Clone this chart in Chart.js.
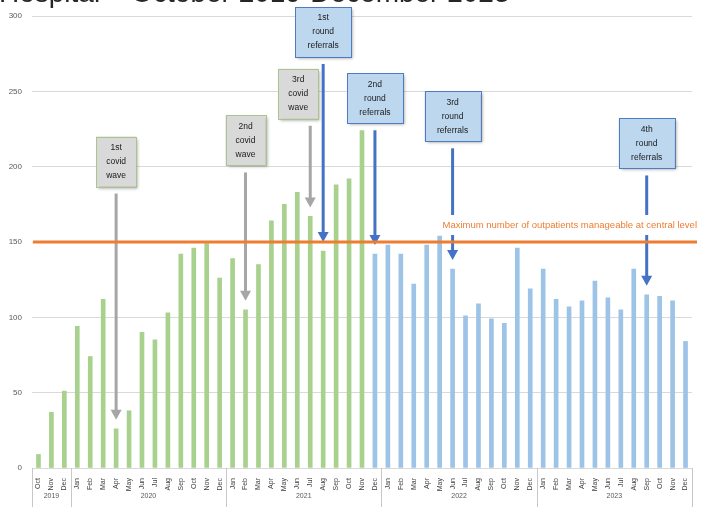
<!DOCTYPE html>
<html>
<head>
<meta charset="utf-8">
<style>
  html, body { margin: 0; padding: 0; background: #ffffff; overflow: hidden; }
  #wrap { position: relative; width: 702px; height: 517px; }
  #title { position: absolute; left: -1px; top: -23px; font: 28px "Liberation Sans", Arial, sans-serif;
           color: #262626; white-space: nowrap; z-index: 2; }
  canvas { position: absolute; left: 0; top: 0; }
</style>
<script src="https://cdn.jsdelivr.net/npm/chart.js@4.4.1/dist/chart.umd.min.js"></script>
</head>
<body>
<div id="wrap">
  <div id="title">Hospital – October 2019-December 2023</div>
  <canvas id="c" width="702" height="517"></canvas>
</div>
<script>
// Monthly outpatient counts, October 2019 – December 2023
const monthLabels = [
  'Oct','Nov','Dec',
  'Jan','Feb','Mar','Apr','May','Jun','Jul','Aug','Sep','Oct','Nov','Dec',
  'Jan','Feb','Mar','Apr','May','Jun','Jul','Aug','Sep','Oct','Nov','Dec',
  'Jan','Feb','Mar','Apr','May','Jun','Jul','Aug','Sep','Oct','Nov','Dec',
  'Jan','Feb','Mar','Apr','May','Jun','Jul','Aug','Sep','Oct','Nov','Dec'
];
const yearLabels = ['2019', '2020', '2021', '2022', '2023'];
const monthsPerYear = [3, 12, 12, 12, 12];

// Oct 2019 – Nov 2021: before referrals reached full effect
const beforeReferrals = [9, 37, 51, 94, 74, 112, 26, 38, 90, 85, 103, 142, 146,
                         149, 126, 139, 105, 135, 164, 175, 183, 167, 144, 188, 192, 224];
// Dec 2021 – Dec 2023
const afterReferrals = [142, 148, 142, 122, 148, 154, 132, 101, 109, 99, 96, 146, 119,
                        132, 112, 107, 111, 124, 113, 105, 132, 115, 114, 111, 84];

const yTicks = [0, 50, 100, 150, 200, 250, 300];
const capacityLimit = 150;
const capacityText = 'Maximum number of outpatients manageable at central level';

// Events marked above the bars (month = index into monthLabels)
const eventTexts = [
  ['1st', 'covid', 'wave'],
  ['2nd', 'covid', 'wave'],
  ['3rd', 'covid', 'wave'],
  ['1st', 'round', 'referrals'],
  ['2nd', 'round', 'referrals'],
  ['3rd', 'round', 'referrals'],
  ['4th', 'round', 'referrals']
];
const eventMonths = [6, 16, 21, 22, 26, 32, 47];
const eventKinds = ['covid', 'covid', 'covid', 'referral', 'referral', 'referral', 'referral'];

const nBefore = beforeReferrals.length;
const seriesBefore = monthLabels.map((_, i) => i < nBefore ? beforeReferrals[i] : null);
const seriesAfter = monthLabels.map((_, i) => i >= nBefore ? afterReferrals[i - nBefore] : null);

// Callout layout: top edge of each box on the value axis, horizontal shift in px
const calloutTops = [220, 234, 265, 306, 262, 250, 232];
const calloutShift = [0, 0, -12, 0, 0, 0, 0];

const styles = {
  covid:    { fill: '#d9d9d9', stroke: '#a9c48f', arrow: '#a6a6a6', w: 40 },
  referral: { fill: '#bdd7ee', stroke: '#4f7cc0', arrow: '#4472c4', w: 56 }
};

function drawArrow(ctx, x, y0, y1, color) {
  const head = 10, half = 5.5;
  ctx.save();
  ctx.strokeStyle = color;
  ctx.fillStyle = color;
  ctx.lineWidth = 3;
  ctx.beginPath();
  ctx.moveTo(x, y0);
  ctx.lineTo(x, y1 - head + 1);
  ctx.stroke();
  ctx.beginPath();
  ctx.moveTo(x - half, y1 - head);
  ctx.lineTo(x + half, y1 - head);
  ctx.lineTo(x, y1);
  ctx.closePath();
  ctx.fill();
  ctx.restore();
}

const overlayPlugin = {
  id: 'overlay',
  afterDatasetsDraw(chart) {
    const ctx = chart.ctx;
    const xs = chart.scales.x, ys = chart.scales.y;
    const area = chart.chartArea;
    const n = monthLabels.length;
    const boundary = k => k <= 0 ? area.left : (k >= n ? area.right
      : (xs.getPixelForValue(k - 1) + xs.getPixelForValue(k)) / 2);

    // Year group dividers and year labels under the month labels
    ctx.save();
    ctx.strokeStyle = '#c8c8c8';
    ctx.lineWidth = 1;
    ctx.fillStyle = '#595959';
    ctx.font = '7px "Liberation Sans", Arial, sans-serif';
    ctx.textAlign = 'center';
    ctx.textBaseline = 'middle';
    let k = 0;
    const drawDivider = kk => {
      const x = Math.round(boundary(kk)) + 0.5;
      ctx.beginPath(); ctx.moveTo(x, area.bottom); ctx.lineTo(x, area.bottom + 39); ctx.stroke();
    };
    drawDivider(0);
    monthsPerYear.forEach((m, i) => {
      const x0 = boundary(k), x1 = boundary(k + m);
      ctx.fillText(yearLabels[i], (x0 + x1) / 2, area.bottom + 28);
      k += m;
      drawDivider(k);
    });
    ctx.restore();

    // Callout boxes with arrows pointing down to the bars
    eventTexts.forEach((lines, i) => {
      const st = styles[eventKinds[i]];
      const m = eventMonths[i];
      const ax = xs.getPixelForValue(m);
      const v = seriesBefore[m] ?? seriesAfter[m];
      const tip = ys.getPixelForValue(v) - 9;
      const top = ys.getPixelForValue(calloutTops[i]);
      const h = 50;
      const cx = ax + calloutShift[i];
      const left = cx - st.w / 2;

      drawArrow(ctx, ax, top + h + 7, tip, st.arrow);

      ctx.save();
      ctx.shadowColor = 'rgba(0,0,0,0.35)';
      ctx.shadowBlur = 3;
      ctx.shadowOffsetX = 2;
      ctx.shadowOffsetY = 2;
      ctx.fillStyle = st.fill;
      ctx.fillRect(left, top, st.w, h);
      ctx.restore();
      ctx.save();
      ctx.strokeStyle = st.stroke;
      ctx.lineWidth = 1;
      ctx.strokeRect(Math.round(left) + 0.5, Math.round(top) + 0.5, st.w, h);
      ctx.fillStyle = '#1a1a1a';
      ctx.font = '8.5px "Liberation Sans", Arial, sans-serif';
      ctx.textAlign = 'center';
      ctx.textBaseline = 'middle';
      lines.forEach((t, j) => ctx.fillText(t, cx, top + 11 + j * 14));
      ctx.restore();
    });

    // Capacity line and its caption
    const yl = ys.getPixelForValue(capacityLimit);
    ctx.save();
    ctx.font = '9.5px "Liberation Sans", Arial, sans-serif';
    ctx.textAlign = 'right';
    ctx.textBaseline = 'middle';
    const tw = ctx.measureText(capacityText).width;
    const tx = area.right + 5, ty = yl - 17;
    ctx.fillStyle = '#ffffff';
    ctx.fillRect(tx - tw - 2, ty - 10, tw + 4, 20);
    ctx.fillStyle = '#ed7d31';
    ctx.fillText(capacityText, tx, ty);
    ctx.strokeStyle = '#ed7d31';
    ctx.lineWidth = 3;
    ctx.beginPath();
    ctx.moveTo(area.left + 1, yl);
    ctx.lineTo(area.right + 5, yl);
    ctx.stroke();
    ctx.restore();
  }
};

new Chart(document.getElementById('c'), {
  type: 'bar',
  data: {
    labels: monthLabels,
    datasets: [
      { label: 'Before', data: seriesBefore, backgroundColor: '#a9d18e', barThickness: 4, grouped: false },
      { label: 'After', data: seriesAfter, backgroundColor: '#9dc3e6', barThickness: 4, grouped: false }
    ]
  },
  options: {
    responsive: false,
    animation: false,
    devicePixelRatio: 1,
    layout: { padding: { top: 16, right: 10, left: 0, bottom: 0 } },
    plugins: { legend: { display: false }, tooltip: { enabled: false }, title: { display: false } },
    scales: {
      x: {
        grid: { display: false },
        border: { display: false },
        ticks: {
          autoSkip: false, minRotation: 90, maxRotation: 90, padding: 2,
          color: '#404040', font: { size: 7, family: '"Liberation Sans", Arial, sans-serif' }
        },
        afterFit(scale) { scale.height = 49; }
      },
      y: {
        min: 0, max: 300,
        afterBuildTicks(scale) { scale.ticks = yTicks.map(v => ({ value: v })); },
        grid: { color: '#d9d9d9', drawTicks: false },
        border: { display: false },
        ticks: {
          padding: 10, color: '#595959',
          font: { size: 8, family: '"Liberation Sans", Arial, sans-serif' }
        },
        afterFit(scale) { scale.width = 32; }
      }
    }
  },
  plugins: [overlayPlugin]
});
</script>
</body>
</html>
